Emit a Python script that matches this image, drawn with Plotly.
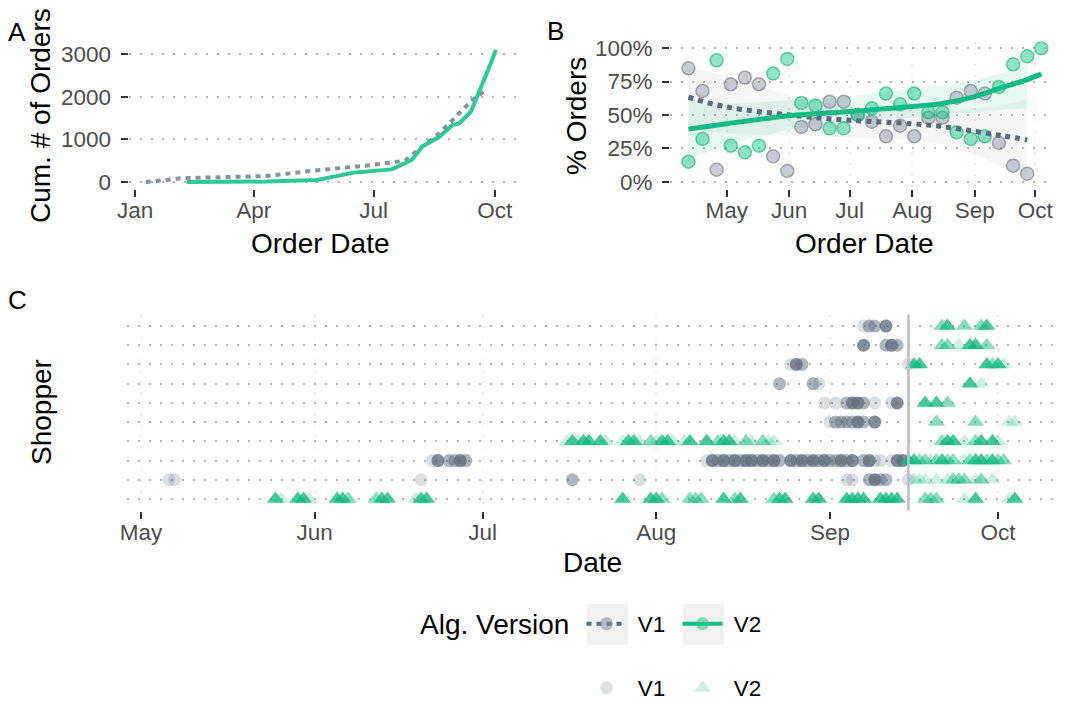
import plotly.graph_objects as go

W, H = 1065, 702
FONT = "Liberation Sans, Arial, Helvetica, sans-serif"


def fx(p):
    return p / W


def fy(p):
    return 1 - p / H


# ---------------- Panel A: cumulative orders ----------------
a_v1_dates = ["2019-01-09", "2019-02-06", "2019-04-11", "2019-05-09", "2019-06-30",
              "2019-07-25", "2019-08-07", "2019-08-20", "2019-09-04", "2019-09-14", "2019-09-25"]
a_v1_orders = [0, 90, 140, 240, 400, 500, 830, 1140, 1610, 1920, 2170]
a_v2_dates = ["2019-02-09", "2019-04-11", "2019-05-19", "2019-06-17", "2019-07-15", "2019-07-30",
              "2019-08-07", "2019-08-20", "2019-08-30", "2019-09-04", "2019-09-13", "2019-09-20",
              "2019-09-27", "2019-10-02"]
a_v2_orders = [0, 10, 45, 225, 295, 515, 830, 1060, 1335, 1375, 1650, 2155, 2700, 3095]
a_xticks = ["2019-01-01", "2019-04-01", "2019-07-01", "2019-10-01"]
a_xticklabels = ["Jan", "Apr", "Jul", "Oct"]
a_yticks = [0, 1000, 2000, 3000]

# ---------------- Panel B: weekly share of orders ----------------
b_week = ["2019-04-12", "2019-04-19", "2019-04-26", "2019-05-03", "2019-05-10", "2019-05-17",
          "2019-05-24", "2019-05-31", "2019-06-07", "2019-06-14", "2019-06-21", "2019-06-28",
          "2019-07-05", "2019-07-12", "2019-07-19", "2019-07-26", "2019-08-02", "2019-08-09",
          "2019-08-16", "2019-08-23", "2019-08-30", "2019-09-06", "2019-09-13", "2019-09-20",
          "2019-09-27", "2019-10-04"]
b_v1_pct = [85, 68, 9, 73, 78, 73, 19, 8, 41, 43, 60, 60, 50, 45, 34, 42, 34, 48, 48, 63, 68, 66,
            29, 12, 6, None]
b_v2_pct = [15, 32, 91, 27, 22, 27, 81, 92, 59, 57, 40, 40, 50, 55, 66, 58, 66, 52, 52, 37, 32, 34,
            71, 88, 94, 100]
b_fit_dates = ["2019-04-12", "2019-05-01", "2019-06-01", "2019-07-01", "2019-08-01", "2019-08-15",
               "2019-09-01", "2019-09-15", "2019-09-27", "2019-10-04"]
b_v1_fit = [63.3, 56, 50, 46, 43.4, 41.5, 37.7, 34.3, 31.4, None]
b_v1_lo = [40, 36, 35, 33, 31, 28, 20, 11, 1, None]
b_v1_hi = [86, 79, 65, 56, 54, 54, 55, 57, 62, None]
b_v2_fit = [39.4, 43.4, 49.4, 52.6, 56.4, 58.4, 63.8, 70.8, 76.5, 80.8]
b_v2_lo = [17, 27, 39, 45, 48, 50, 52, 54, 55, None]
b_v2_hi = [63, 59, 61, 64, 70, 72, 76, 82, 88, None]
b_xticks = ["2019-05-01", "2019-06-01", "2019-07-01", "2019-08-01", "2019-09-01", "2019-10-01"]
b_xticklabels = ["May", "Jun", "Jul", "Aug", "Sep", "Oct"]
b_yticks = [0, 25, 50, 75, 100]
b_yticklabels = ["0%", "25%", "50%", "75%", "100%"]

# ---------------- Panel C: orders per shopper (date, weight) ----------------
s01_v1 = [("09-07", 1), ("09-08", 2), ("09-09", 2), ("09-11", 3)]
s01_v2 = [("09-21", 2), ("09-22", 3), ("09-25", 2), ("09-28", 2), ("09-29", 3)]
s02_v1 = [("09-07", 3), ("09-11", 2), ("09-12", 3), ("09-13", 2)]
s02_v2 = [("09-21", 2), ("09-22", 2), ("09-24", 1), ("09-26", 3), ("09-27", 3), ("09-29", 2)]
s03_v1 = [("08-25", 1), ("08-26", 3), ("08-27", 2), ("09-15", 1)]
s03_v2 = [("09-16", 3), ("09-17", 3), ("09-29", 3), ("09-30", 2), ("10-01", 3), ("10-02", 1)]
s04_v1 = [("08-23", 2), ("08-29", 2), ("08-30", 1)]
s04_v2 = [("09-26", 3), ("09-28", 1)]
s05_v1 = [("08-31", 1), ("09-02", 1), ("09-04", 2), ("09-05", 3), ("09-06", 3), ("09-07", 2),
          ("09-09", 1), ("09-12", 1), ("09-13", 3)]
s05_v2 = [("09-18", 3), ("09-20", 3), ("09-22", 2)]
s06_v1 = [("09-01", 1), ("09-02", 2), ("09-03", 2), ("09-04", 2), ("09-05", 2), ("09-06", 3),
          ("09-07", 2), ("09-09", 3)]
s06_v2 = [("09-20", 2), ("09-27", 2), ("10-03", 1), ("10-04", 1)]
s07_v1 = []
s07_v2 = [("07-16", 1), ("07-17", 3), ("07-18", 1), ("07-19", 3), ("07-20", 3), ("07-22", 3),
          ("07-23", 1), ("07-26", 1), ("07-27", 3), ("07-28", 3), ("07-29", 1), ("07-31", 2),
          ("08-01", 1), ("08-02", 3), ("08-03", 3), ("08-04", 1), ("08-06", 1), ("08-07", 3),
          ("08-10", 3), ("08-12", 2), ("08-13", 3), ("08-14", 3), ("08-15", 1), ("08-17", 2),
          ("08-18", 1), ("08-20", 2), ("08-21", 1), ("08-22", 1),
          ("09-21", 2), ("09-22", 3), ("09-23", 3), ("09-25", 1), ("09-27", 2), ("09-28", 3),
          ("09-30", 3), ("10-01", 1)]
s08_v1 = [("06-22", 1), ("06-23", 3), ("06-25", 2), ("06-26", 2), ("06-27", 3), ("06-28", 2),
          ("08-10", 1), ("08-11", 3), ("08-12", 2), ("08-13", 3), ("08-14", 2), ("08-15", 3),
          ("08-16", 2), ("08-17", 3), ("08-18", 3), ("08-19", 2), ("08-20", 3), ("08-21", 2),
          ("08-22", 3), ("08-23", 2), ("08-25", 3), ("08-26", 2), ("08-27", 3), ("08-28", 2),
          ("08-29", 3), ("08-30", 2), ("08-31", 3), ("09-01", 2), ("09-02", 2), ("09-03", 3),
          ("09-04", 2), ("09-05", 3), ("09-07", 2), ("09-08", 3), ("09-09", 1), ("09-10", 1),
          ("09-12", 1), ("09-13", 3), ("09-14", 3)]
s08_v2 = [("09-15", 3), ("09-16", 3), ("09-17", 2), ("09-18", 2), ("09-19", 1), ("09-20", 2),
          ("09-21", 3), ("09-22", 2), ("09-23", 2), ("09-25", 1), ("09-26", 2), ("09-27", 3),
          ("09-28", 3), ("09-29", 2), ("09-30", 3), ("10-01", 2), ("10-02", 2)]
s09_v1 = [("05-06", 1), ("05-07", 1), ("06-20", 1), ("07-17", 2), ("07-29", 1), ("09-04", 1),
          ("09-05", 1), ("09-08", 2), ("09-09", 3), ("09-10", 2), ("09-11", 2), ("09-15", 1)]
s09_v2 = [("09-16", 1), ("09-17", 1), ("09-18", 1), ("09-20", 1), ("09-22", 1), ("09-23", 2),
          ("09-24", 2), ("09-25", 2), ("09-27", 1), ("09-28", 2), ("09-30", 1)]
s10_v1 = []
s10_v2 = [("05-25", 3), ("05-26", 1), ("05-29", 3), ("05-30", 3), ("05-31", 1), ("06-05", 3),
          ("06-06", 3), ("06-07", 2), ("06-12", 2), ("06-13", 3), ("06-14", 3), ("06-19", 1),
          ("06-20", 3), ("06-21", 3), ("07-26", 3), ("07-31", 3), ("08-01", 3), ("08-02", 2),
          ("08-07", 2), ("08-08", 2), ("08-09", 2), ("08-13", 3), ("08-15", 2), ("08-16", 3),
          ("08-22", 2), ("08-23", 3), ("08-24", 3), ("08-29", 3), ("08-30", 3), ("09-04", 3),
          ("09-05", 3), ("09-06", 3), ("09-07", 3), ("09-10", 3), ("09-11", 3), ("09-12", 3),
          ("09-13", 3), ("09-18", 2), ("09-19", 2), ("09-20", 2), ("09-25", 1), ("09-27", 3),
          ("10-03", 1), ("10-04", 3)]
c_year = "2019"
c_v2_launch = "2019-09-15"
c_xticks = ["2019-05-01", "2019-06-01", "2019-07-01", "2019-08-01", "2019-09-01", "2019-10-01"]
c_xticklabels = ["May", "Jun", "Jul", "Aug", "Sep", "Oct"]

# ---------------- styles ----------------
GRID = "#b5b5b5"
TICKCOL = "#333333"
LABCOL = "#4d4d4d"
V1_LINE_A = "#8a929e"
V2_LINE_A = "#2ec898"
V1_LINE = "#5b6b78"
V2_LINE = "#12bb85"
V1_PT = "rgb(95,108,125)"
V2_PT = "rgb(18,185,128)"
ALPHA = {1: 0.22, 2: 0.5, 3: 0.78}
DOT = "5px,5px"
TICK_SIZE = 22.5
TITLE_SIZE = 28
LEG_SIZE = 22.5

fig = go.Figure()

# Panel A
fig.add_trace(go.Scatter(x=a_v1_dates, y=a_v1_orders, mode="lines", xaxis="x", yaxis="y",
                         line=dict(color=V1_LINE_A, width=4, dash=DOT), showlegend=False,
                         hoverinfo="skip"))
fig.add_trace(go.Scatter(x=a_v2_dates, y=a_v2_orders, mode="lines", xaxis="x", yaxis="y",
                         line=dict(color=V2_LINE_A, width=4), showlegend=False, hoverinfo="skip"))


# Panel B ribbons
def ribbon(dates, lo, hi, fill):
    d = [a for a, l in zip(dates, lo) if l is not None]
    l2 = [l for l in lo if l is not None]
    h2 = [h for h in hi if h is not None]
    fig.add_trace(go.Scatter(x=d, y=h2, mode="lines", line=dict(width=0, shape="spline"),
                             xaxis="x2", yaxis="y2", showlegend=False, hoverinfo="skip"))
    fig.add_trace(go.Scatter(x=d, y=l2, mode="lines", line=dict(width=0, shape="spline"),
                             fill="tonexty", fillcolor=fill, xaxis="x2", yaxis="y2",
                             showlegend=False, hoverinfo="skip"))


ribbon(b_fit_dates, b_v1_lo, b_v1_hi, "rgba(200,200,200,0.17)")
ribbon(b_fit_dates, b_v2_lo, b_v2_hi, "rgba(30,190,140,0.11)")

fig.add_trace(go.Scatter(x=b_week, y=b_v1_pct, mode="markers", xaxis="x2", yaxis="y2",
                         marker=dict(size=13, color="rgba(135,142,158,0.45)",
                                     line=dict(color="rgba(105,112,128,0.55)", width=1.5)),
                         showlegend=False, hoverinfo="skip"))
fig.add_trace(go.Scatter(x=b_week, y=b_v2_pct, mode="markers", xaxis="x2", yaxis="y2",
                         marker=dict(size=13, color="rgba(35,200,140,0.5)",
                                     line=dict(color="rgba(20,180,120,0.6)", width=1.5)),
                         showlegend=False, hoverinfo="skip"))
fig.add_trace(go.Scatter(x=b_fit_dates, y=b_v1_fit, mode="lines", xaxis="x2", yaxis="y2",
                         line=dict(color=V1_LINE, width=5, dash=DOT, shape="spline"),
                         showlegend=False, hoverinfo="skip"))
fig.add_trace(go.Scatter(x=b_fit_dates, y=b_v2_fit, mode="lines", xaxis="x2", yaxis="y2",
                         line=dict(color=V2_LINE, width=5, shape="spline"),
                         showlegend=False, hoverinfo="skip"))

# Panel C
rows_v1 = [s01_v1, s02_v1, s03_v1, s04_v1, s05_v1, s06_v1, s07_v1, s08_v1, s09_v1, s10_v1]
rows_v2 = [s01_v2, s02_v2, s03_v2, s04_v2, s05_v2, s06_v2, s07_v2, s08_v2, s09_v2, s10_v2]


def flatten(rows):
    xs, ys, ops = [], [], []
    n = len(rows)
    for i, r in enumerate(rows):
        for d, w in r:
            xs.append(c_year + "-" + d)
            ys.append(n - 1 - i)
            ops.append(ALPHA[w])
    return xs, ys, ops


x1, y1, o1 = flatten(rows_v1)
x2, y2, o2 = flatten(rows_v2)
fig.add_trace(go.Scatter(x=x1, y=y1, mode="markers", xaxis="x3", yaxis="y3",
                         marker=dict(size=13, symbol="circle", color=V1_PT, opacity=o1,
                                     line=dict(width=0)),
                         showlegend=False, hoverinfo="skip"))
fig.add_trace(go.Scatter(x=x2, y=y2, mode="markers", xaxis="x3", yaxis="y3",
                         marker=dict(size=15, symbol="triangle-up", color=V2_PT, opacity=o2,
                                     line=dict(width=0)),
                         showlegend=False, hoverinfo="skip"))

# Legend entries (one legend per key so each key sits at its own spot)
NB = "\u00a0"
fig.add_trace(go.Scatter(x=[None], y=[None], mode="lines+markers", name=NB + "V1", xaxis="x2",
                         yaxis="y2", legend="legend",
                         line=dict(color=V1_LINE, width=4, dash=DOT),
                         marker=dict(size=13, color="rgba(135,142,158,0.55)")))
fig.add_trace(go.Scatter(x=[None], y=[None], mode="lines+markers", name=NB + "V2", xaxis="x2",
                         yaxis="y2", legend="legend3",
                         line=dict(color=V2_LINE, width=4),
                         marker=dict(size=13, color="rgba(35,200,140,0.55)")))
fig.add_trace(go.Scatter(x=[None], y=[None], mode="markers", name=NB + "V1", xaxis="x3",
                         yaxis="y3", legend="legend2",
                         marker=dict(size=13, symbol="circle", color=V1_PT, opacity=0.2)))
fig.add_trace(go.Scatter(x=[None], y=[None], mode="markers", name=NB + "V2", xaxis="x3",
                         yaxis="y3", legend="legend4",
                         marker=dict(size=15, symbol="triangle-up", color=V2_PT, opacity=0.22)))

tick_common = dict(ticks="outside", ticklen=7, tickwidth=2, tickcolor=TICKCOL,
                   tickfont=dict(size=TICK_SIZE, color=LABCOL, family=FONT), showline=False,
                   zeroline=False, automargin=False)
grid_common = dict(showgrid=True, gridcolor=GRID, gridwidth=2, griddash="2px,9px")
faint_grid = dict(showgrid=True, gridcolor="#ececec", gridwidth=1.5, griddash="2px,9px")


def leg(xc, yc):
    return dict(orientation="h", x=fx(xc - 26), xanchor="left", y=fy(yc), yanchor="middle",
                bgcolor="rgba(0,0,0,0)", itemwidth=40, traceorder="normal",
                font=dict(size=LEG_SIZE, color="black", family=FONT))


fig.update_layout(
    width=W, height=H, margin=dict(l=0, r=0, t=0, b=0, autoexpand=False),
    paper_bgcolor="white", plot_bgcolor="rgba(0,0,0,0)",
    font=dict(family=FONT, color="black"),
    xaxis=dict(domain=[fx(128.5), fx(516)], range=["2018-12-26 21:00", "2019-10-17 05:00"],
               type="date", tickvals=a_xticks, ticktext=a_xticklabels, showgrid=False,
               anchor="y", ticklabelstandoff=-6, **tick_common),
    yaxis=dict(domain=[fy(188.6), fy(43.4)], range=[-155, 3249], tickvals=a_yticks,
               anchor="x", ticklabelstandoff=5, **grid_common, **tick_common),
    xaxis2=dict(domain=[fx(670), fx(1054)], range=["2019-04-02 21:00", "2019-10-10 07:00"],
                type="date", tickvals=b_xticks, ticktext=b_xticklabels, anchor="y2",
                ticklabelstandoff=-6, **faint_grid, **tick_common),
    yaxis2=dict(domain=[fy(189), fy(41.6)], range=[-5.5, 105], tickvals=b_yticks,
                ticktext=b_yticklabels, anchor="x2", ticklabelstandoff=5,
                **grid_common, **tick_common),
    xaxis3=dict(domain=[fx(127), fx(1054)], range=["2019-04-28 12:00", "2019-10-11 00:00"],
                type="date", tickvals=c_xticks, ticktext=c_xticklabels, anchor="y3",
                ticklabelstandoff=-6, **faint_grid, **tick_common),
    yaxis3=dict(domain=[fy(510.5), fy(314.5)], range=[-0.6, 9.6], tickvals=list(range(10)),
                showticklabels=False, ticks="", anchor="x3", zeroline=False, automargin=False,
                **grid_common),
    legend=leg(607.5, 624),
    legend3=leg(703.5, 624),
    legend2=leg(607.5, 688),
    legend4=leg(703.5, 688),
)

# V2 launch marker line in panel C
fig.add_shape(type="line", xref="x3", yref="y3 domain", x0=c_v2_launch, x1=c_v2_launch,
              y0=0, y1=1, line=dict(color="#b9bfc5", width=2.5))

# legend key backgrounds
for x0 in (587, 683):
    fig.add_shape(type="rect", xref="paper", yref="paper", x0=fx(x0), x1=fx(x0 + 41),
                  y0=fy(645), y1=fy(604), fillcolor="#f2f2f2", line=dict(width=0),
                  layer="below")


def ann(text, x, y, size, angle=0, xanchor="center"):
    fig.add_annotation(text=text, x=fx(x), y=fy(y), xref="paper", yref="paper",
                       showarrow=False, textangle=angle, xanchor=xanchor, yanchor="middle",
                       font=dict(size=size, color="black", family=FONT))


ann("A", 17, 32, 26)
ann("B", 555, 31, 26)
ann("C", 18, 300, 26)
ann("Order Date", 320, 243, TITLE_SIZE)
ann("Cum. # of Orders", 41, 116, TITLE_SIZE, -90)
ann("Order Date", 864, 243, TITLE_SIZE)
ann("% Orders", 577, 116, TITLE_SIZE, -90)
ann("Date", 592, 562, TITLE_SIZE)
ann("Shopper", 42, 412, TITLE_SIZE, -90)
ann("Alg. Version", 418, 624, TITLE_SIZE, xanchor="left")

fig.write_html("out.html", config={"displayModeBar": False},
               post_script="document.body.style.margin='0px';")
